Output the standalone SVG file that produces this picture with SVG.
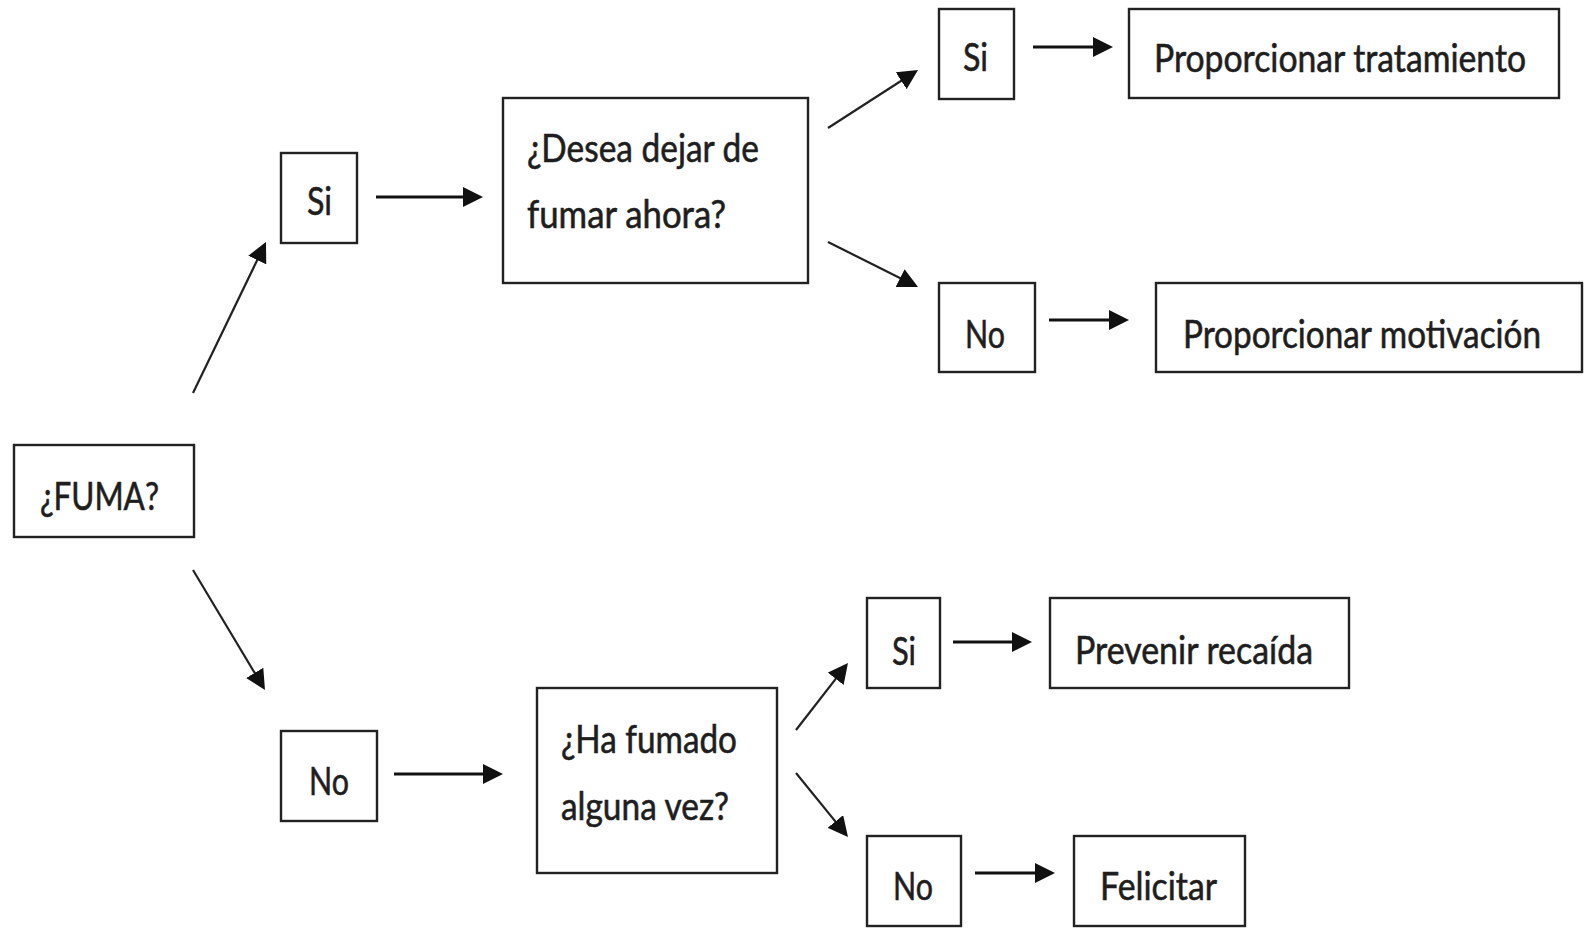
<svg xmlns="http://www.w3.org/2000/svg" width="1586" height="928" viewBox="0 0 1586 928">
<style>
.box{fill:#fff;stroke:#222;stroke-width:2.4}
.t{font-family:Lato,"Open Sans","Liberation Sans",sans-serif;font-size:39px;fill:#1e1e1e;stroke:#1e1e1e;stroke-width:0.6}
.h{stroke:#111;stroke-width:3;fill:none;marker-end:url(#ah)}
.d{stroke:#222;stroke-width:2.2;fill:none;marker-end:url(#ah)}
</style>
<defs>
<marker id="ah" viewBox="0 0 20 20" refX="7" refY="10" markerWidth="20" markerHeight="20" markerUnits="userSpaceOnUse" orient="auto">
<path d="M0,0 L20,10 L0,20 z" fill="#111"/>
</marker>
</defs>
<rect width="1586" height="928" fill="#fff"/>
<g id="connectors">
<line class="h" x1="376" y1="197" x2="470" y2="197"/>
<line class="h" x1="394" y1="774" x2="490" y2="774"/>
<line class="h" x1="1033" y1="47" x2="1100" y2="47"/>
<line class="h" x1="1049" y1="320" x2="1116" y2="320"/>
<line class="h" x1="953" y1="642" x2="1019" y2="642"/>
<line class="h" x1="975" y1="873" x2="1042" y2="873"/>
<line class="d" x1="193" y1="393" x2="260.3" y2="253.7"/>
<line class="d" x1="193" y1="570" x2="258.3" y2="678.9"/>
<line class="d" x1="828" y1="128" x2="907.1" y2="77"/>
<line class="d" x1="828" y1="242" x2="906.4" y2="281.2"/>
<line class="d" x1="796" y1="730" x2="840" y2="673.3"/>
<line class="d" x1="796" y1="773" x2="839.8" y2="826.9"/>
</g>
<g id="fuma"><rect class="box" x="14" y="445" width="180" height="92"/><text class="t" x="40" y="510" textLength="119" lengthAdjust="spacingAndGlyphs">¿FUMA?</text></g>
<g id="si1"><rect class="box" x="281" y="153" width="76" height="90"/><text class="t" x="307" y="215" textLength="25" lengthAdjust="spacingAndGlyphs">Si</text></g>
<g id="no1"><rect class="box" x="281" y="731" width="96" height="90"/><text class="t" x="309" y="795" textLength="40" lengthAdjust="spacingAndGlyphs">No</text></g>
<g id="desea"><rect class="box" x="503" y="98" width="305" height="185"/><text class="t" x="527" y="162" textLength="232" lengthAdjust="spacingAndGlyphs">¿Desea dejar de</text><text class="t" x="527" y="228" textLength="199" lengthAdjust="spacingAndGlyphs">fumar ahora?</text></g>
<g id="ha"><rect class="box" x="537" y="688" width="240" height="185"/><text class="t" x="561" y="753" textLength="176" lengthAdjust="spacingAndGlyphs">¿Ha fumado</text><text class="t" x="561" y="820" textLength="168" lengthAdjust="spacingAndGlyphs">alguna vez?</text></g>
<g id="si2"><rect class="box" x="939" y="9" width="75" height="90"/><text class="t" x="963" y="71" textLength="25" lengthAdjust="spacingAndGlyphs">Si</text></g>
<g id="no2"><rect class="box" x="939" y="283" width="96" height="89"/><text class="t" x="965" y="348" textLength="40" lengthAdjust="spacingAndGlyphs">No</text></g>
<g id="tratamiento"><rect class="box" x="1129" y="9" width="430" height="89"/><text class="t" x="1154" y="72" textLength="372" lengthAdjust="spacingAndGlyphs">Proporcionar tratamiento</text></g>
<g id="motivacion"><rect class="box" x="1156" y="283" width="426" height="89"/><text class="t" x="1183" y="348" textLength="358" lengthAdjust="spacingAndGlyphs">Proporcionar motivación</text></g>
<g id="si3"><rect class="box" x="867" y="598" width="73" height="90"/><text class="t" x="892" y="665" textLength="24" lengthAdjust="spacingAndGlyphs">Si</text></g>
<g id="no3"><rect class="box" x="867" y="836" width="94" height="90"/><text class="t" x="893" y="900" textLength="40" lengthAdjust="spacingAndGlyphs">No</text></g>
<g id="recaida"><rect class="box" x="1050" y="598" width="299" height="90"/><text class="t" x="1075" y="664" textLength="238" lengthAdjust="spacingAndGlyphs">Prevenir recaída</text></g>
<g id="felicitar"><rect class="box" x="1074" y="836" width="171" height="90"/><text class="t" x="1100" y="900" textLength="117" lengthAdjust="spacingAndGlyphs">Felicitar</text></g>
</svg>
